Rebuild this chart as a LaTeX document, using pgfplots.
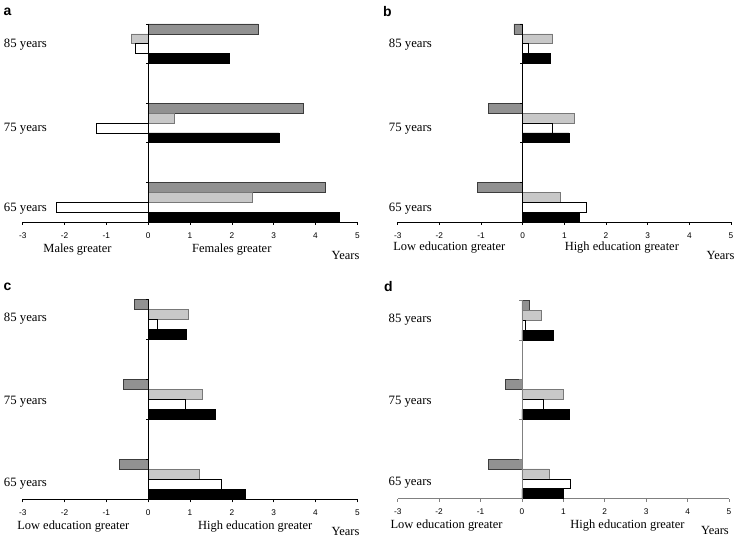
\documentclass[border=0pt]{standalone}
\usepackage{fontspec}
\setmainfont{Liberation Serif}
\setsansfont{Liberation Sans}
\usepackage{pgfplots}
\pgfplotsset{compat=1.18}
\definecolor{dg}{RGB}{145,145,145}
\definecolor{dgb}{RGB}{60,60,60}
\definecolor{lg}{RGB}{200,200,200}
\definecolor{lgb}{RGB}{120,120,120}
\tikzset{lab/.style={font=\fontsize{12.5}{14}\selectfont},
  plab/.style={font=\fontsize{14}{16}\selectfont\sffamily\bfseries}}
\pgfplotsset{
  panel/.style={
    scale only axis, enlargelimits=false, clip=false,
    xmin=-3, xmax=5, ymin=-0.25, ymax=2.25,
    axis x line*=bottom, axis y line*=left,
    y axis line style={draw=none},
    x axis line style={line width=0.8bp},
    xtick={-3,-2,-1,0,1,2,3,4,5},
    xticklabels={-3,-2,-1,0,1,2,3,4,5},
    yticklabels={65 years,75 years,85 years},
    ytick style={draw=none},
    xtick style={line width=0.6bp, black},
    tick align=outside, major tick length=3bp,
    xticklabel style={font=\fontsize{8.3}{9}\selectfont\sffamily, yshift=-4bp},
    yticklabel style={font=\fontsize{12.8}{14}\selectfont, anchor=east, inner sep=0pt},
    xbar, bar width=0.125,
  },
  s1/.style={fill=dg, draw=dgb, line width=0.7bp, bar shift=0.1875},
  s2/.style={fill=lg, draw=lgb, line width=0.7bp, bar shift=0.0625},
  s3/.style={fill=white, draw=black, line width=0.7bp, bar shift=-0.0625},
  s4/.style={fill=black, draw=black, line width=0.7bp, bar shift=-0.1875},
}
\newcommand{\zeroline}[1]{%
  \draw[line width=0.8bp,#1] (axis cs:0,-0.25) -- (axis cs:0,2.25);
  \pgfplotsinvokeforeach{0.25,0.75,1.25,1.75,2.25}{\draw[line width=0.6bp,#1] (axis cs:0,##1) -- ([xshift=-2.5bp]axis cs:0,##1);}
}
\begin{document}
\begin{tikzpicture}
\path[use as bounding box] (0,0) rectangle (741bp,539bp);
% panel a
\begin{axis}[panel, at={(22.7bp,317bp)}, anchor=south west, width=334.6bp, height=198bp,
  ytick={-0.08,0.93,1.99}, yticklabel style={xshift=27.3bp}]
\addplot[s1] coordinates {(4.23,0) (3.72,1) (2.63,2)};
\addplot[s2] coordinates {(2.50,0) (0.62,1) (-0.41,2)};
\addplot[s3] coordinates {(-2.19,0) (-1.24,1) (-0.30,2)};
\addplot[s4] coordinates {(4.56,0) (3.13,1) (1.95,2)};
\zeroline{black}
\node[lab] at (axis cs:-1.69,-0.25) [yshift=-28bp] {Males greater};
\node[lab] at (axis cs:2.0,-0.25) [yshift=-28bp] {Females greater};
\node[lab] at (axis cs:4.72,-0.25) [yshift=-33bp] {Years};
\end{axis}
% panel b
\begin{axis}[panel, at={(397.7bp,317bp)}, anchor=south west, width=333.3bp, height=198bp,
  ytick={-0.08,0.93,1.99}, yticklabel style={xshift=37.3bp}]
\addplot[s1] coordinates {(-1.09,0) (-0.82,1) (-0.21,2)};
\addplot[s2] coordinates {(0.91,0) (1.23,1) (0.72,2)};
\addplot[s3] coordinates {(1.52,0) (0.71,1) (0.14,2)};
\addplot[s4] coordinates {(1.36,0) (1.11,1) (0.67,2)};
\zeroline{black}
\node[lab] at (axis cs:-1.76,-0.25) [yshift=-26bp] {Low education greater};
\node[lab] at (axis cs:2.38,-0.25) [yshift=-26bp] {High education greater};
\node[lab] at (axis cs:4.75,-0.25) [yshift=-33bp] {Years};
\end{axis}
% panel c
\begin{axis}[panel, at={(22.7bp,39.7bp)}, anchor=south west, width=334.6bp, height=200bp,
  ytick={-0.05,0.97,2.01}, yticklabel style={xshift=27.3bp}]
\addplot[s1] coordinates {(-0.69,0) (-0.60,1) (-0.32,2)};
\addplot[s2] coordinates {(1.22,0) (1.30,1) (0.96,2)};
\addplot[s3] coordinates {(1.75,0) (0.89,1) (0.22,2)};
\addplot[s4] coordinates {(2.32,0) (1.60,1) (0.92,2)};
\zeroline{black}
\node[lab] at (axis cs:-1.79,-0.25) [yshift=-27.4bp] {Low education greater};
\node[lab] at (axis cs:2.56,-0.25) [yshift=-27.4bp] {High education greater};
\node[lab] at (axis cs:4.72,-0.25) [yshift=-32.4bp] {Years};
\end{axis}
% panel d
\begin{axis}[panel, at={(397.7bp,40.3bp)}, anchor=south west, width=331.3bp, height=198.4bp,
  ytick={-0.05,0.97,2.01}, yticklabel style={xshift=37bp},
  x axis line style={line width=0.8bp, gray}, xtick style={line width=0.6bp, gray}]
\addplot[s1] coordinates {(-0.81,0) (-0.40,1) (0.19,2)};
\addplot[s2] coordinates {(0.65,0) (1.01,1) (0.48,2)};
\addplot[s3] coordinates {(1.18,0) (0.52,1) (0.08,2)};
\addplot[s4] coordinates {(1.01,0) (1.14,1) (0.76,2)};
\zeroline{gray}
\node[lab] at (axis cs:-1.82,-0.25) [yshift=-27.3bp] {Low education greater};
\node[lab] at (axis cs:2.55,-0.25) [yshift=-27.3bp] {High education greater};
\node[lab] at (axis cs:4.66,-0.25) [yshift=-32bp] {Years};
\end{axis}
\node[plab] at (7.5bp,527.5bp) {a};
\node[plab] at (387.5bp,527.5bp) {b};
\node[plab] at (7.5bp,252bp) {c};
\node[plab] at (388.5bp,252bp) {d};
\end{tikzpicture}
\end{document}
